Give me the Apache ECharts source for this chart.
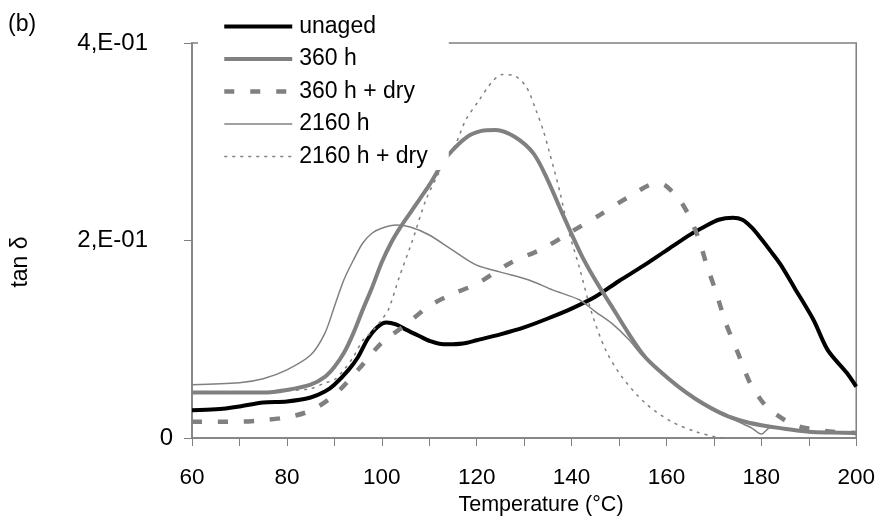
<!DOCTYPE html>
<html>
<head>
<meta charset="utf-8">
<script src="https://cdn.jsdelivr.net/npm/echarts@6/dist/echarts.min.js"></script>
<style>
html,body{margin:0;padding:0;background:#fff;}
#chart{width:878px;height:518px;}
</style>
</head>
<body>
<div id="chart"></div>
<script>
// ---- data ----
const seriesNames = ['unaged', '360 h', '360 h + dry', '2160 h', '2160 h + dry'];

const unagedT = [60,65,70,75,80,85,88,90,93,95,97,99,101,103,105,108,110,113,115,118,120,125,130,135,140,145,150,155,160,165,168,171,174,176,178,180,182,184,187,191,194,198,200];
const unagedV = [.028,.029,.032,.036,.037,.041,.047,.054,.069,.082,.100,.112,.117,.115,.110,.103,.0985,.095,.095,.0965,.099,.105,.112,.121,.131,.143,.159,.174,.190,.206,.214,.221,.223,.221,.213,.2015,.189,.176,.152,.1195,.089,.066,.052];

const h360T = [60,70,75,80,85,88,90,92,94,96,98,100,102,104,106,108,110,112,114,118,121,124,128,132,135,138,142,145,148.5,152,155.5,159,162.5,166,169.5,173,177,180,184,190,195,200];
const h360V = [.046,.046,.046,.0486,.054,.062,.072,.086,.106,.130,.153,.178,.198,.214,.228,.242,.256,.272,.2866,.305,.311,.312,.305,.288,.261,.228,.186,.160,.133,.106,.082,.066,.052,.040,.030,.022,.016,.013,.010,.0064,.0055,.005];

const h360dT = [60,65,70,75,80,85,90,95,100,105,110,115,120,127,134,140,146,152,158,160,163.5,166.5,168.5,170.5,172.5,175,177.5,180,182,185,188,192,196,200];
const h360dV = [.0165,.0165,.0165,.018,.021,.0277,.0435,.069,.0965,.1144,.1337,.146,.156,.177,.192,.209,.226,.244,.258,.255,.236,.2056,.175,.147,.1165,.087,.057,.038,.028,.018,.0115,.008,.006,.005];

const h2160T = [60,70,75,80,85,88,90,92,94,96,98,100,103,106,110,115,120,125,131,136,141.6,145,148.5,152,155,160,165,170,175,178,180,182,186,190,195,200];
const h2160V = [.054,.056,.060,.069,.084,.106,.133,.160,.180,.1975,.2076,.2124,.2157,.2137,.2056,.190,.175,.168,.160,.150,.140,.128,.116,.100,.083,.062,.043,.029,.017,.010,.004,.011,.008,.006,.005,.005];

const h2160dT = [60,70,80,85,88,90,92,94,96,98,100,101.4,103.7,106.5,109.3,112,115.6,117.7,120.5,123.3,125.4,127.5,130.4,132.5,134,135.3,137.5,139.5,141.6,144.3,147.2,150.6,155.6,161.1,166.2,170.4,172];
const h2160dV = [.046,.046,.048,.050,.0557,.059,.069,.082,.099,.108,.120,.130,.163,.2005,.241,.268,.298,.322,.342,.361,.368,.3676,.356,.332,.312,.29,.25,.2076,.1735,.126,.089,.062,.035,.0165,.0064,.001,0];

const yTicks = [0, 0.2, 0.4];
const yTickLabels = ['0', '2,E-01', '4,E-01'];
const xTickLabels = [60, 80, 100, 120, 140, 160, 180, 200];

// ---- build ----
const zip = (t, v) => t.map((x, i) => [x, v[i]]);
const FONT = "'Liberation Sans', Arial, sans-serif";
const GREY = '#808080';

const styles = [
  {color: '#000', width: 4, type: 'solid'},
  {color: GREY, width: 4, type: 'solid'},
  {color: GREY, width: 4.5, type: [10, 16]},
  {color: GREY, width: 1.5, type: 'solid'},
  {color: GREY, width: 1.5, type: [3, 5]}
];
const tvs = [[unagedT, unagedV], [h360T, h360V], [h360dT, h360dV], [h2160T, h2160V], [h2160dT, h2160dV]];

const chart = echarts.init(document.getElementById('chart'), null, {renderer: 'canvas'});

chart.setOption({
  backgroundColor: '#fff',
  animation: false,
  grid: {left: 192, right: 20, top: 43, bottom: 80, show: true, borderColor: GREY, borderWidth: 1.5, backgroundColor: 'transparent'},
  legend: {
    orient: 'vertical', left: 198, top: 10,
    data: seriesNames.map((n, i) => ({
      name: n,
      itemStyle: {opacity: 0, borderWidth: 0},
      lineStyle: {color: styles[i].color, width: styles[i].width, type: styles[i].type, cap: 'butt'}
    })),
    itemWidth: 68, itemHeight: 14, itemGap: 9.5,
    padding: [5, 21, 2, 24],
    backgroundColor: '#fff',
    itemStyle: {opacity: 0, borderWidth: 0},
    textStyle: {fontFamily: FONT, fontSize: 23, color: '#000', lineHeight: 23, padding: [0, 0, 0, 2]},
    selectedMode: false
  },
  xAxis: {
    type: 'value', min: 60, max: 200, interval: 10,
    axisLine: {show: true, lineStyle: {color: GREY, width: 1.5}},
    axisTick: {show: true, inside: false, length: 8, lineStyle: {color: GREY, width: 1}},
    splitLine: {show: false},
    axisLabel: {
      fontFamily: FONT, fontSize: 22.5, color: '#000', margin: 28,
      formatter: v => xTickLabels.indexOf(v) >= 0 ? String(v) : ''
    }
  },
  yAxis: {
    type: 'value', min: 0, max: 0.4, interval: 0.2,
    axisLine: {show: true, lineStyle: {color: GREY, width: 1.5}},
    axisTick: {show: true, inside: false, length: 8, lineStyle: {color: GREY, width: 1}},
    splitLine: {show: false},
    axisLabel: {
      fontFamily: FONT, fontSize: 24, color: '#000', margin: 19,
      formatter: v => {
        const i = yTicks.findIndex(t => Math.abs(t - v) < 1e-9);
        const s = i >= 0 ? yTickLabels[i] : '';
        return i > 0 ? '{n|' + s + '}' : '{z|' + s + '}';
      },
      rich: {
        n: {fontFamily: FONT, fontSize: 24, color: '#000', padding: [0, 25, 0, 0]},
        z: {fontFamily: FONT, fontSize: 24, color: '#000'}
      }
    }
  },
  graphic: [
    {type: 'text', x: 8, y: 25,
      style: {text: '(b)', font: '23px ' + FONT, fill: '#000', align: 'left', verticalAlign: 'middle'}},
    {type: 'text', x: 21, y: 262, rotation: Math.PI / 2,
      style: {text: 'tan δ', font: '23px ' + FONT, fill: '#000', align: 'center', verticalAlign: 'middle'}},
    {type: 'text', x: 541, y: 505,
      style: {text: 'Temperature (°C)', font: '21.5px ' + FONT, fill: '#000', align: 'center', verticalAlign: 'middle'}}
  ],
  series: seriesNames.map((n, i) => ({
    name: n, type: 'line', data: zip(tvs[i][0], tvs[i][1]),
    showSymbol: false, symbol: 'none', smooth: 0.3,
    lineStyle: {color: styles[i].color, width: styles[i].width, type: styles[i].type, cap: 'butt'},
    itemStyle: {color: styles[i].color},
    emphasis: {disabled: true},
    animation: false
  }))
});
</script>
</body>
</html>
